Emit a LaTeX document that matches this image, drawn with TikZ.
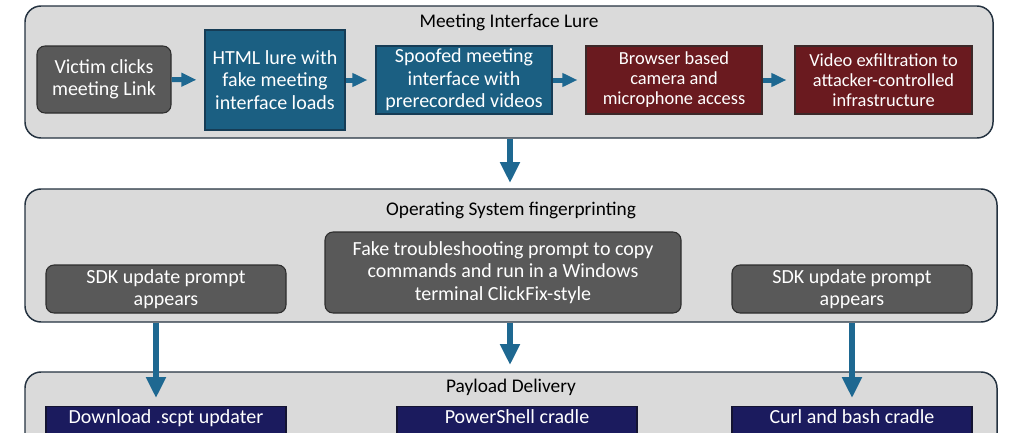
\documentclass[tikz,border=0pt]{standalone}
\usepackage{fontspec}
\setmainfont{Carlito}
\usetikzlibrary{arrows.meta}
\definecolor{contfill}{RGB}{218,218,218}
\definecolor{contline}{RGB}{36,50,64}
\definecolor{grayfill}{RGB}{89,89,89}
\definecolor{grayline}{RGB}{45,45,45}
\definecolor{tealfill}{RGB}{27,95,130}
\definecolor{tealline}{RGB}{22,60,85}
\definecolor{redfill}{RGB}{106,26,31}
\definecolor{redline}{RGB}{60,40,40}
\definecolor{navyfill}{RGB}{27,27,94}
\definecolor{navyline}{RGB}{20,20,50}
\definecolor{arrowc}{RGB}{30,104,145}
\newdimen\pxu \pxu=0.75pt
\begin{document}
\begin{tikzpicture}[x=0.75pt,y=-0.75pt,
  container/.style={draw=contline, line width=1.1pt, fill=contfill, rounded corners=12pt, inner sep=0pt},
  ttl/.style={font=\fontsize{14.5pt}{17pt}\selectfont, text=black, inner sep=0pt},
  bx/.style={inner sep=0pt, align=center, text=white, line width=0.8pt,
    font=\fontsize{15pt}{16.9pt}\selectfont},
  graybox/.style={bx, fill=grayfill, draw=grayline, rounded corners=6pt},
  tealbox/.style={bx, fill=tealfill, draw=tealline},
  redbox/.style={bx, fill=redfill, draw=redline, font=\fontsize{13.8pt}{15pt}\selectfont},
  navybox/.style={bx, fill=navyfill, draw=navyline, anchor=north, text height=13pt, text depth=26pt},
  smallarrow/.style={draw=arrowc, line width=3.75pt, -{Triangle[width=9.75pt,length=11.25pt]}, shorten >=6pt},
  bigarrow/.style={draw=arrowc, line width=4.5pt, -{Triangle[width=14.25pt,length=15.75pt]}},
]
\useasboundingbox (0,0) rectangle (1016,432);
\clip (0,0) rectangle (1016,432);
\fill[white] (0,0) rectangle (1016,432);

% containers
\node[container, minimum width=968\pxu, minimum height=132\pxu] (top) at (509,72) {};
\node[ttl] (toptitle) at (509,22) {Meeting Interface Lure};

\node[container, minimum width=972\pxu, minimum height=133\pxu] (mid) at (511,255.5) {};
\node[ttl] (midtitle) at (511,210) {Operating System fingerprinting};

\node[container, minimum width=972\pxu, minimum height=140\pxu] (bot) at (511,442) {};
\node[ttl] (bottitle) at (511,387) {Payload Delivery};

% top row
\node[graybox, minimum width=134\pxu, minimum height=67\pxu] (b1) at (104,79.5) {Victim clicks\\meeting Link};
\node[tealbox, minimum width=140\pxu, minimum height=100\pxu] (b2) at (275,80) {HTML lure with\\fake meeting\\interface loads};
\node[tealbox, minimum width=176\pxu, minimum height=68\pxu] (b3) at (464,80) {Spoofed meeting\\interface with\\prerecorded videos};
\node[redbox, minimum width=176\pxu, minimum height=68\pxu] (b4) at (674,80) {Browser based\\camera and\\microphone access};
\node[redbox, minimum width=177\pxu, minimum height=68\pxu] (b5) at (883.5,80) {Video exfiltration to\\attacker-controlled\\infrastructure};

\draw[smallarrow] (b1) -- (b2);
\draw[smallarrow] (b2) -- (b3);
\draw[smallarrow] (b3) -- (b4);
\draw[smallarrow] (b4) -- (b5);

% middle row
\node[graybox, minimum width=240\pxu, minimum height=48\pxu] (sdkl) at (166,289) {SDK update prompt\\appears};
\node[graybox, minimum width=356\pxu, minimum height=81\pxu] (fake) at (503,272.5) {Fake troubleshooting prompt to copy\\commands and run in a Windows\\terminal ClickFix-style};
\node[graybox, minimum width=240\pxu, minimum height=48\pxu] (sdkr) at (852,289) {SDK update prompt\\appears};

% bottom row
\node[navybox, minimum width=240\pxu] (dl) at (166,406) {Download .scpt updater};
\node[navybox, minimum width=240\pxu] (ps) at (517,406) {PowerShell cradle};
\node[navybox, minimum width=240\pxu] (cb) at (852,406) {Curl and bash cradle};

% connectors between stages
\coordinate (a1) at (510,183);
\coordinate (a2) at (510,365);
\coordinate (a3) at (156,398);
\coordinate (a4) at (852,398);
\draw[bigarrow] (a1 |- top.south) -- (a1);
\draw[bigarrow] (a2 |- mid.south) -- (a2);
\draw[bigarrow] (a3 |- mid.south) -- (a3);
\draw[bigarrow] (a4 |- mid.south) -- (a4);
\end{tikzpicture}
\end{document}
